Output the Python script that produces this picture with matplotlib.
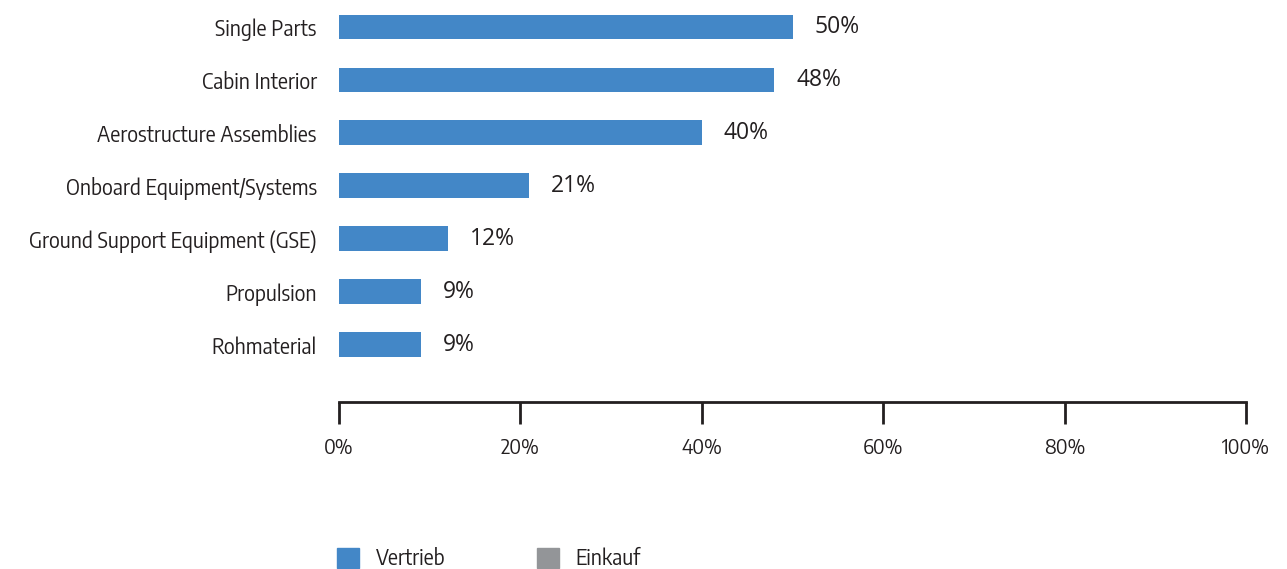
import matplotlib.pyplot as plt
from matplotlib.patches import Patch
from matplotlib.font_manager import FontProperties

categories = ["Single Parts", "Cabin Interior", "Aerostructure Assemblies",
              "Onboard Equipment/Systems", "Ground Support Equipment (GSE)",
              "Propulsion", "Rohmaterial"]
vertrieb = [50, 48, 40, 21, 12, 9, 9]
series_names = ["Vertrieb", "Einkauf"]
x_ticks = [0, 20, 40, 60, 80, 100]

BLUE = "#4387c7"
GREY = "#939598"
TEXT = "#231f20"

label_font = dict(family="Encode Sans Semi Condensed", weight="normal")
value_font = dict(family="Open Sans", stretch="normal")

fig = plt.figure(figsize=(12.87, 5.69), dpi=100)
ax = fig.add_axes([339 / 1287, 167 / 569, 907 / 1287, 402 / 569])

pos = list(range(len(categories)))
ax.barh(pos, vertrieb, height=0.47, color=BLUE)

# value labels to the right of each bar
for y, v in zip(pos, vertrieb):
    ax.text(v + 2.4, y, f"{v}%", va="center", ha="left", fontsize=16.5,
            color=TEXT, **value_font)

ax.set_xlim(0, 100)
ax.set_ylim(7.08, -0.51)

ax.set_yticks(pos)
ax.set_yticklabels(categories, fontsize=15, color=TEXT, **label_font)
ax.tick_params(axis="y", length=0, pad=16)

ax.set_xticks(x_ticks)
ax.set_xticklabels([f"{t}%" for t in x_ticks], fontsize=14.5, color=TEXT, **label_font)
ax.tick_params(axis="x", direction="out", length=16, width=2, color=TEXT, pad=10)

for side in ["top", "right", "left"]:
    ax.spines[side].set_visible(False)
ax.spines["bottom"].set_linewidth(2)
ax.spines["bottom"].set_color(TEXT)

handles = [Patch(color=BLUE), Patch(color=GREY)]
leg = fig.legend(handles, series_names, loc="lower left", bbox_to_anchor=(337 / 1287, -0.002),
                 ncol=2, frameon=False, borderpad=0, borderaxespad=0,
                 handlelength=1.05, handleheight=1.05,
                 handletextpad=0.8, columnspacing=4.4,
                 prop=FontProperties(size=15, **label_font))
for t in leg.get_texts():
    t.set_color(TEXT)

fig.savefig("out.png", dpi=100)
